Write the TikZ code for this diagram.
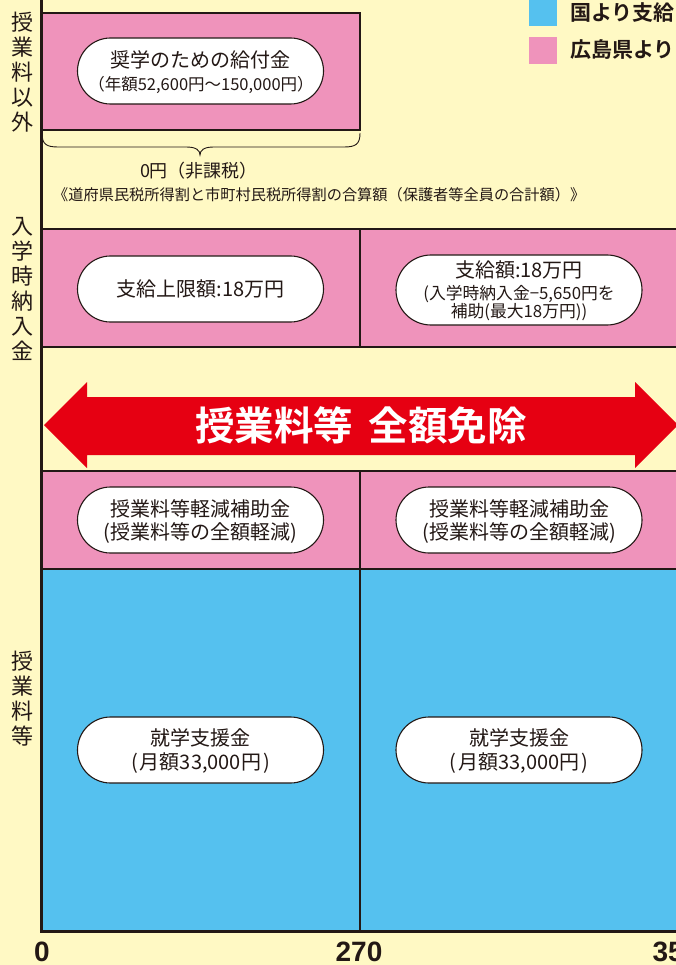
\documentclass[tikz,border=0pt]{standalone}
\usepackage{fontspec}
\setmainfont{Noto Sans CJK JP}[BoldFont={Noto Sans CJK JP Bold}]
\newfontfamily\numfont{Liberation Sans}
\definecolor{cream}{HTML}{FFF9C4}
\definecolor{pinkc}{HTML}{EF93BB}
\definecolor{bluec}{HTML}{55C1EF}
\definecolor{redc}{HTML}{E60012}
\definecolor{ink}{HTML}{231815}
\begin{document}
\begin{tikzpicture}[x=1pt,y=-1pt,
  cell/.style={draw=ink,line width=1.1pt},
  pill/.style={draw=ink,fill=white,line width=1.1pt,rounded corners=33pt,minimum width=246pt,minimum height=66pt,inner sep=0pt},
  big/.style={text=ink,font=\fontsize{20}{24}\selectfont,inner sep=0pt},
  small/.style={text=ink,font=\fontsize{16.8}{18}\selectfont,inner sep=0pt},
  vlab/.style={text=ink,align=center,font=\fontsize{22}{25}\selectfont,inner sep=0pt},
  legtext/.style={text=ink,anchor=west,font=\fontsize{21}{21}\selectfont\bfseries,inner sep=0pt},
  axnum/.style={text=ink,anchor=base,font=\fontsize{28}{28}\selectfont\numfont\bfseries,inner sep=0pt}]
\useasboundingbox (0,0) rectangle (676,965);
\fill[cream] (0,0) rectangle (676,965);

% legend
\fill[bluec] (529,-2) rectangle (557,26);
\fill[pinkc] (529,37) rectangle (557,64);
\node[legtext] (leg1) at (570,13) {国より支給};
\node[legtext] (leg2) at (570,50) {広島県より};

% cells
\draw[cell,fill=pinkc] (42,13) rectangle (360,130);
\draw[cell,fill=pinkc] (42,229) rectangle (690,347);
\draw[cell] (360,229) -- (360,347);
\draw[cell,fill=pinkc] (42,471) rectangle (690,569);
\draw[cell,fill=bluec] (42,569) rectangle (690,931);
\draw[cell] (360,471) -- (360,931);

% brace
\draw[ink,line width=0.9pt] (42,133) .. controls (42,144) and (46,147) .. (58,147) -- (186,147)
  .. controls (196,147) and (200,150) .. (200,155)
  .. controls (200,150) and (204,147) .. (214,147) -- (344,147)
  .. controls (356,147) and (360,144) .. (360,133);
\node[text=ink,font=\fontsize{18}{18}\selectfont,inner sep=0pt] (zero) at (199,171) {0円（非課税）};
\node[text=ink,font=\fontsize{15.2}{16}\selectfont,inner sep=0pt,anchor=west] (note) at (53,195) {《道府県民税所得割と市町村民税所得割の合算額（保護者等全員の合計額）》};

% axis
\draw[ink,line width=3pt] (41,-2) -- (41,931) -- (690,931);

% vertical labels
\node[vlab] (v1) at (22,72) {授\\業\\料\\以\\外};
\node[vlab] (v2) at (22,289) {入\\学\\時\\納\\入\\金};
\node[vlab] (v3) at (22,699) {授\\業\\料\\等};

% pills
\node[pill] (p1) at (200.5,71) {};
\node[big] (p1a) at (200.5,60) {奨学のための給付金};
\node[small,font=\fontsize{16.5}{18}\selectfont] (p1b) at (201,85) {（年額52,600円〜150,000円）};

\node[pill] (p2) at (200.5,289) {};
\node[big] (p2a) at (200.5,289) {支給上限額:18万円};

\node[pill,minimum height=70pt,rounded corners=35pt] (p3) at (519,290) {};
\node[big] (p3a) at (519,270) {支給額:18万円};
\node[small] (p3b) at (519,294) {(入学時納入金−5,650円を};
\node[small] (p3c) at (519,312) {補助(最大18万円))};

\node[pill] (p4) at (200.5,520) {};
\node[big] (p4a) at (200.5,509) {授業料等軽減補助金};
\node[big] (p4b) at (200.5,533) {(授業料等の全額軽減)};
\node[pill] (p5) at (519,520) {};
\node[big] (p5a) at (519,509) {授業料等軽減補助金};
\node[big] (p5b) at (519,533) {(授業料等の全額軽減)};

\node[pill] (p6) at (200.5,750) {};
\node[big] (p6a) at (200.5,738) {就学支援金};
\node[big] (p6b) at (200.5,763) {(\kern2pt 月額33,000円\kern2pt)};
\node[pill] (p7) at (519,750) {};
\node[big] (p7a) at (519,738) {就学支援金};
\node[big] (p7b) at (519,763) {(\kern2pt 月額33,000円\kern2pt)};

% arrow
\fill[redc] (44,425) -- (87,382) -- (87,397) -- (635,397) -- (635,382) -- (678,425)
  -- (635,468) -- (635,455) -- (87,455) -- (87,468) -- cycle;
\node[text=white,font=\fontsize{39.5}{40}\selectfont\bfseries,inner sep=0pt] (arrtext) at (361,425) {授業料等\hspace{0.4em}全額免除};

% axis numbers
\node[axnum] (n0) at (42,961) {0};
\node[axnum] (n1) at (359,961) {270};
\node[axnum] (n2) at (676,961) {350};
\end{tikzpicture}
\end{document}
